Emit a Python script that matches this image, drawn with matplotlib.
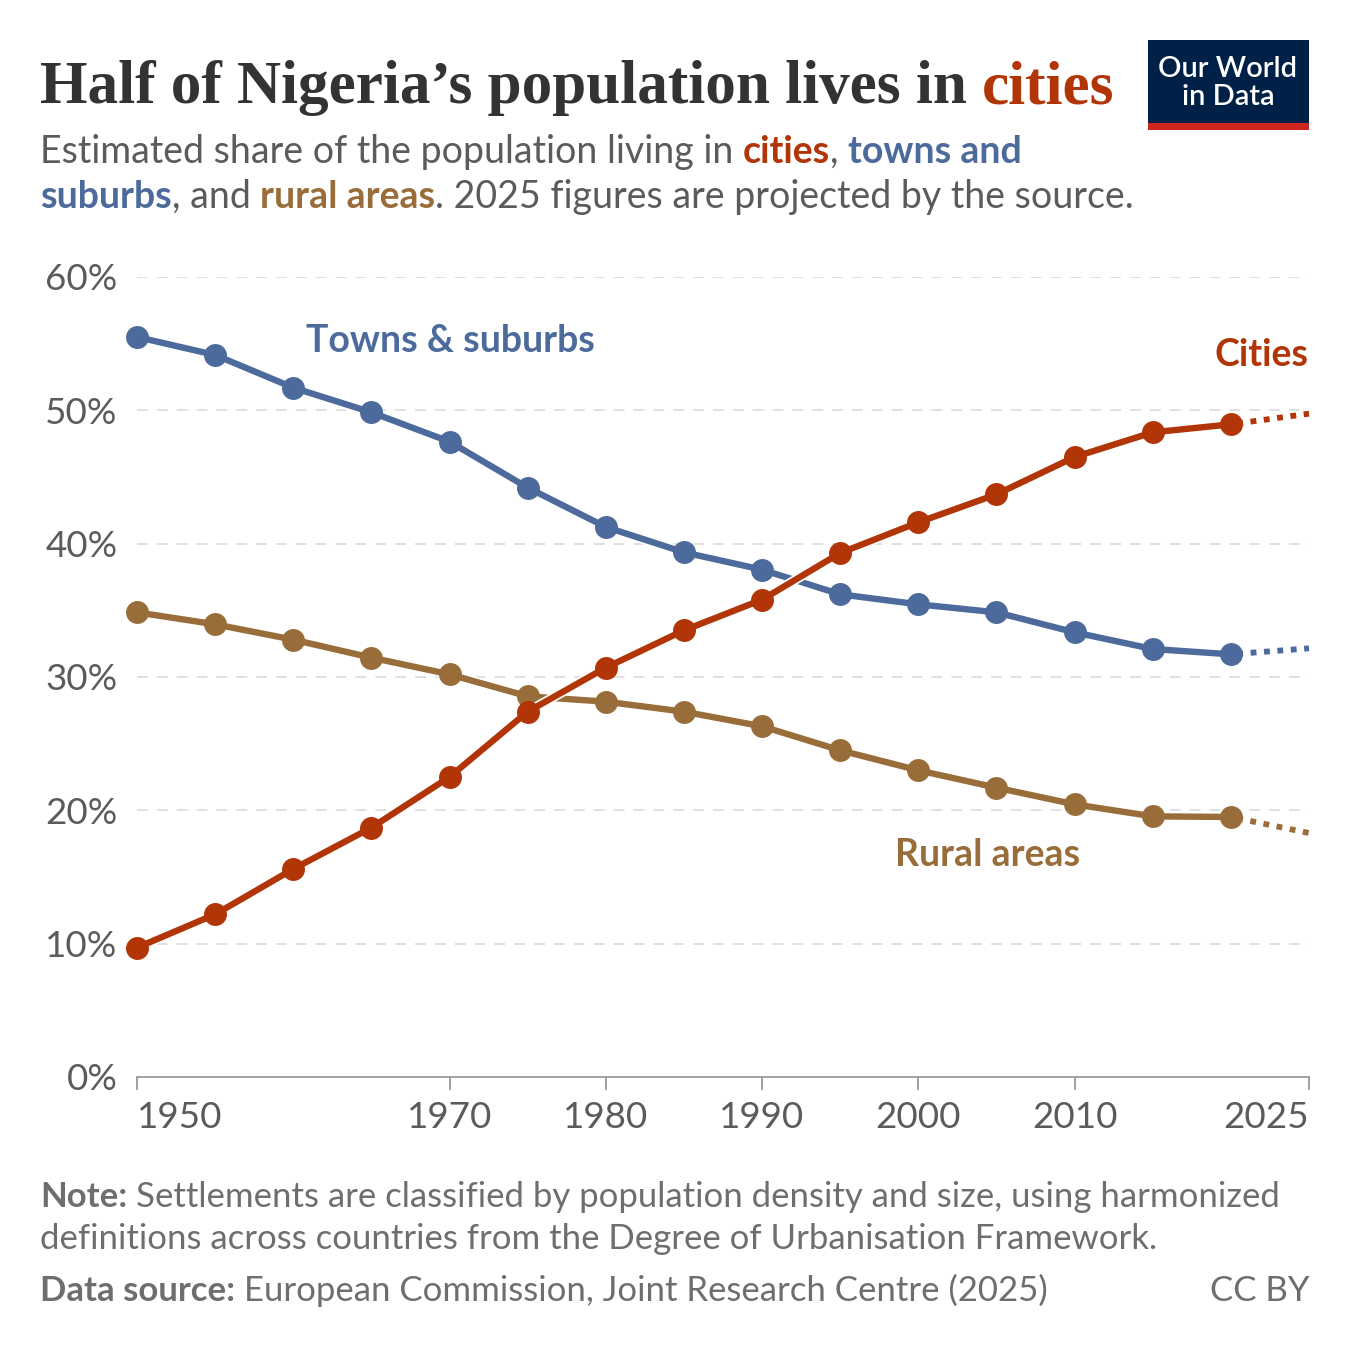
import numpy as np
import matplotlib
matplotlib.use('Agg')
from matplotlib import pyplot as plt
from matplotlib import patheffects as pe
from matplotlib.patches import Rectangle

# Data (share of population, %)

years = [1950, 1955, 1960, 1965, 1970, 1975, 1980, 1985, 1990, 1995, 2000, 2005, 2010, 2015, 2020]
cities = [9.7, 12.2, 15.6, 18.7, 22.5, 27.4, 30.7, 33.5, 35.8, 39.3, 41.6, 43.7, 46.5, 48.35, 48.95]
towns = [55.5, 54.15, 51.7, 49.85, 47.65, 44.2, 41.25, 39.35, 38.05, 36.2, 35.45, 34.85, 33.35, 32.1, 31.7]
rural = [34.85, 33.95, 32.8, 31.45, 30.2, 28.55, 28.15, 27.4, 26.3, 24.5, 23.0, 21.7, 20.45, 19.55, 19.5]

proj_years = [2020, 2025]
cities_proj = [48.95, 49.75]
towns_proj = [31.7, 32.15]
rural_proj = [19.5, 18.3]

xticks = [1950, 1970, 1980, 1990, 2000, 2010, 2025]
yticks = [0, 10, 20, 30, 40, 50, 60]

RED = '#b13507'
BLUE = '#4c6a9c'
BROWN = '#996d39'
GRAY = '#5b5b5b'
FOOT = '#6e6e6e'

W = 1350
H = 1350

plt.rcParams['font.family'] = ['Lato', 'DejaVu Sans']

fig = plt.figure(figsize=(13.5, 13.5), dpi=100)
fig.patch.set_facecolor('white')
renderer = fig.canvas.get_renderer()


def fx(x):
    return x / W


def fy(y):
    return 1 - y / H


def space_width(size, weight, family):
    a = fig.text(0, 0, 'a a', fontsize=size, fontweight=weight, family=family)
    b = fig.text(0, 0, 'aa', fontsize=size, fontweight=weight, family=family)
    w = a.get_window_extent(renderer).width - b.get_window_extent(renderer).width
    a.remove()
    b.remove()
    return w


def rich_text(x, y, pieces, size, family=['Lato', 'DejaVu Sans']):
    # draw pieces of text one after another on a common baseline
    for txt, weight, color in pieces:
        sw = space_width(size, weight, family)
        lead = len(txt) - len(txt.lstrip(' '))
        trail = len(txt) - len(txt.rstrip(' '))
        core = txt.strip(' ')
        x += lead * sw
        if core:
            t = fig.text(fx(x), fy(y), core, fontsize=size, fontweight=weight,
                         color=color, family=family, va='baseline', ha='left')
            x = t.get_window_extent(renderer).x1
        x += trail * sw
    return x


# Title and subtitle

rich_text(40, 103, [('Half of Nigeria\u2019s population lives in ', 'bold', '#333333'),
                    ('cities', 'bold', RED)], 44, family=['Liberation Serif', 'DejaVu Serif'])

rich_text(40, 163, [('Estimated share of the population living in ', 'normal', GRAY),
                    ('cities', 'bold', RED),
                    (', ', 'normal', GRAY),
                    ('towns and', 'bold', BLUE)], 27)
rich_text(40, 208, [('suburbs', 'bold', BLUE),
                    (', and ', 'normal', GRAY),
                    ('rural areas', 'bold', BROWN),
                    ('. 2025 figures are projected by the source.', 'normal', GRAY)], 27)

# Logo

fig.patches.append(Rectangle((fx(1148), fy(123)), (1309 - 1148) / W, 83 / H,
                             transform=fig.transFigure, facecolor='#002147', edgecolor='none'))
fig.patches.append(Rectangle((fx(1148), fy(130)), (1309 - 1148) / W, 7 / H,
                             transform=fig.transFigure, facecolor='#ce261e', edgecolor='none'))
fig.text(fx(1228), fy(77), 'Our World', color='white', fontsize=21, fontweight='semibold',
         ha='center', va='baseline')
fig.text(fx(1228), fy(105), 'in Data', color='white', fontsize=21, fontweight='semibold',
         ha='center', va='baseline')

# Chart

ax = fig.add_axes([fx(137), fy(1077), 1172 / W, 800 / H])
ax.set_xlim(1950, 2025)
ax.set_ylim(0, 60)

halo = [pe.withStroke(linewidth=7, foreground='white')]

series = [(rural, rural_proj, BROWN, 3), (towns, towns_proj, BLUE, 4), (cities, cities_proj, RED, 5)]
for vals, proj, col, z in series:
    ax.plot(years, vals, color=col, lw=4.6, zorder=z, clip_on=False,
            path_effects=halo, solid_capstyle='round')
    ax.plot(years, vals, color=col, lw=0, marker='o', markersize=15.5, zorder=z + 0.2,
            clip_on=False)
    ax.plot(proj_years, proj, color=col, lw=4.2, linestyle=(1.2, (1.0, 1.3)), zorder=z - 0.5,
            clip_on=False)

for y in yticks[1:]:
    ax.axhline(y, color='#dddddd', lw=1.3, linestyle=(0, (6, 5)), zorder=1)

for s in ['top', 'right', 'left']:
    ax.spines[s].set_visible(False)
ax.spines['bottom'].set_color('#999999')
ax.spines['bottom'].set_linewidth(1.3)

ax.set_xticks(xticks)
ax.set_xticklabels([str(x) for x in xticks])
ax.tick_params(axis='x', length=9, width=1.3, color='#999999', labelsize=26.5,
               labelcolor=GRAY, pad=8)
labels = ax.get_xticklabels()
labels[0].set_ha('left')
labels[-1].set_ha('right')

ax.set_yticks(yticks)
ax.set_yticklabels([str(y) + '%' for y in yticks])
ax.tick_params(axis='y', length=0, labelsize=26.5, labelcolor=GRAY, pad=14)

# Series labels

ax.text(1960.8, 54.4, 'Towns & suburbs', color=BLUE, fontsize=27, fontweight='bold',
        va='baseline', ha='left')
ax.text(2025, 53.3, 'Cities', color=RED, fontsize=27, fontweight='bold',
        va='baseline', ha='right')
ax.text(2004.4, 15.8, 'Rural areas', color=BROWN, fontsize=27, fontweight='bold',
        va='baseline', ha='center')

# Footer

rich_text(40, 1207, [('Note: ', 'bold', FOOT),
                     ('Settlements are classified by population density and size, using harmonized',
                      'normal', FOOT)], 25)
rich_text(40, 1249, [('definitions across countries from the Degree of Urbanisation Framework.',
                      'normal', FOOT)], 25)
rich_text(40, 1301, [('Data source: ', 'bold', FOOT),
                     ('European Commission, Joint Research Centre (2025)', 'normal', FOOT)], 25)
fig.text(fx(1309), fy(1301), 'CC BY', color=FOOT, fontsize=25, ha='right', va='baseline')

fig.savefig('out.png', dpi=100, facecolor='white')
